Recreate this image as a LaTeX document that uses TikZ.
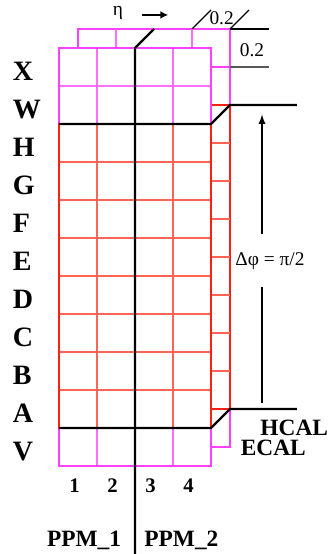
\documentclass[tikz,border=0pt]{standalone}
\usepackage{fontspec}
\setmainfont{Liberation Serif}
\usetikzlibrary{arrows.meta}
\definecolor{calmag}{RGB}{255,64,255}
\definecolor{calmagl}{RGB}{255,110,255}
\definecolor{calred}{RGB}{255,32,16}
\definecolor{calredl}{RGB}{255,100,84}
\tikzset{
  magline/.style={draw=calmag, line width=1.5pt},
  maginner/.style={draw=calmagl, line width=1.2pt},
  redline/.style={draw=calred, line width=1.5pt},
  redinner/.style={draw=calredl, line width=1.2pt},
  bound/.style={black, line width=1.6pt},
  rowlab/.style={anchor=west, inner sep=0pt, font=\fontsize{21}{25}\selectfont\bfseries},
  collab/.style={inner sep=0pt, font=\fontsize{15.5}{18}\selectfont\bfseries},
  callab/.style={inner sep=0pt, font=\fontsize{17.5}{21}\selectfont\bfseries},
  dimlab/.style={inner sep=0pt, font=\fontsize{14.5}{17}\selectfont}
}
\begin{document}
\begin{tikzpicture}[>=latex, x=1cm, y=1cm, line join=miter]
        \useasboundingbox (-1.553,-2.316) rectangle (7.158,12.263);
        % back plane, seen on top and on the right
        \draw[magline] (0.5,11) -- (0.5,11.5) -- (4.5,11.5) -- (4.5,9.5);
        \foreach \x in {1.5,3.5} \draw[maginner] (\x,11) -- (\x,11.5);
        \draw[magline] (4,10.5) -- (4.5,10.5);
        \draw[magline] (4,0.5) -- (4.5,0.5) -- (4.5,1.5);
        \draw[redline] (4.5,9.5) -- (4.5,1.5);
        \draw[redline] (4,9.5) -- (4.5,9.5);
        \draw[redline] (4,1.5) -- (4.5,1.5);
        \foreach \y in {2.5,...,8.5} \draw[redinner] (4,\y) -- (4.5,\y);
        % front plane: ECAL rows W, X and V
        \draw[maginner] (0,10) -- (4,10);
        \foreach \x in {1,3} {
          \draw[maginner] (\x,9) -- (\x,11);
          \draw[maginner] (\x,0) -- (\x,1);
        }
        \draw[magline] (0,9) rectangle (4,11);
        \draw[magline] (0,0) rectangle (4,1);
        % front plane: HCAL rows A to H
        \foreach \y in {2,...,8} \draw[redinner] (0,\y) -- (4,\y);
        \foreach \x in {1,3} \draw[redinner] (\x,1) -- (\x,9);
        \draw[redline] (0,1) rectangle (4,9);
        % boundaries
        \coordinate (ppmtop) at (2.5,11.5);
        \coordinate (ppmbot) at (2,-2.4);
        \draw[bound] (ppmtop) -- (2,11) -- (ppmbot);
        \coordinate (hcaltop) at (6.26,9.5);
        \coordinate (hcalbot) at (6.26,1.5);
        \draw[bound] (0,9) -- (4,9) -- (4.5,9.5) -- (hcaltop);
        \draw[bound] (0,1) -- (4,1) -- (4.5,1.5) -- (hcalbot);
        % labels
        \foreach \l [count=\i from 0] in {V,A,B,C,D,E,F,G,H,W,X}
          \node[rowlab] (row\l) at (-1.224,\i+0.38) {\l};
        \foreach \c in {1,...,4}
          \node[collab] (col\c) at (\c-0.59,-0.526) {\c};
        \node[callab] (ppm1) at (0.658,-1.947) {PPM\_1};
        \node[callab] (ppm2) at (3.22,-1.947) {PPM\_2};
        \node[callab] (hcal) at (6.19,1.0) {HCAL};
        \node[callab] (ecal) at (5.64,0.47) {ECAL};
        % eta direction
        \node[dimlab] (eta) at (1.553,11.93) {η};
        \coordinate (etaa) at (2.176,11.87);
        \coordinate (etab) at (2.876,11.87);
        \draw[-{Latex[length=6pt,width=6pt]}, line width=2pt] (etaa) -- (etab);
        % tower size
        \draw[black, line width=1pt] (3.5,11.5) -- (4,12);
        \draw[black, line width=1pt] (4.5,11.5) -- (5,12);
        \node[dimlab] (deta) at (4.28,11.79) {0.2};
        \coordinate (dimtop) at (5.526,11.5);
        \coordinate (dimbot) at (5.526,10.5);
        \draw[black, line width=0.9pt] (4.5,11.5) -- (dimtop);
        \draw[black!65, line width=1.2pt] (4.5,10.5) -- (dimbot);
        \node[dimlab] (dphi0) at (5.08,10.95) {0.2};
        % phi coverage
        \node[dimlab] (dphi) at (5.553,5.40) {Δφ = π/2};
        \coordinate (dtip) at (5.342,9.25);
        \coordinate (dup) at (5.342,6.105);
        \coordinate (ddown) at (5.342,4.71);
        \coordinate (dlow) at (5.342,1.66);
        \draw[->, line width=1.4pt] (dup) -- (dtip);
        \draw[line width=0.8pt] (ddown) -- (dlow);
      \end{tikzpicture}
\end{document}
